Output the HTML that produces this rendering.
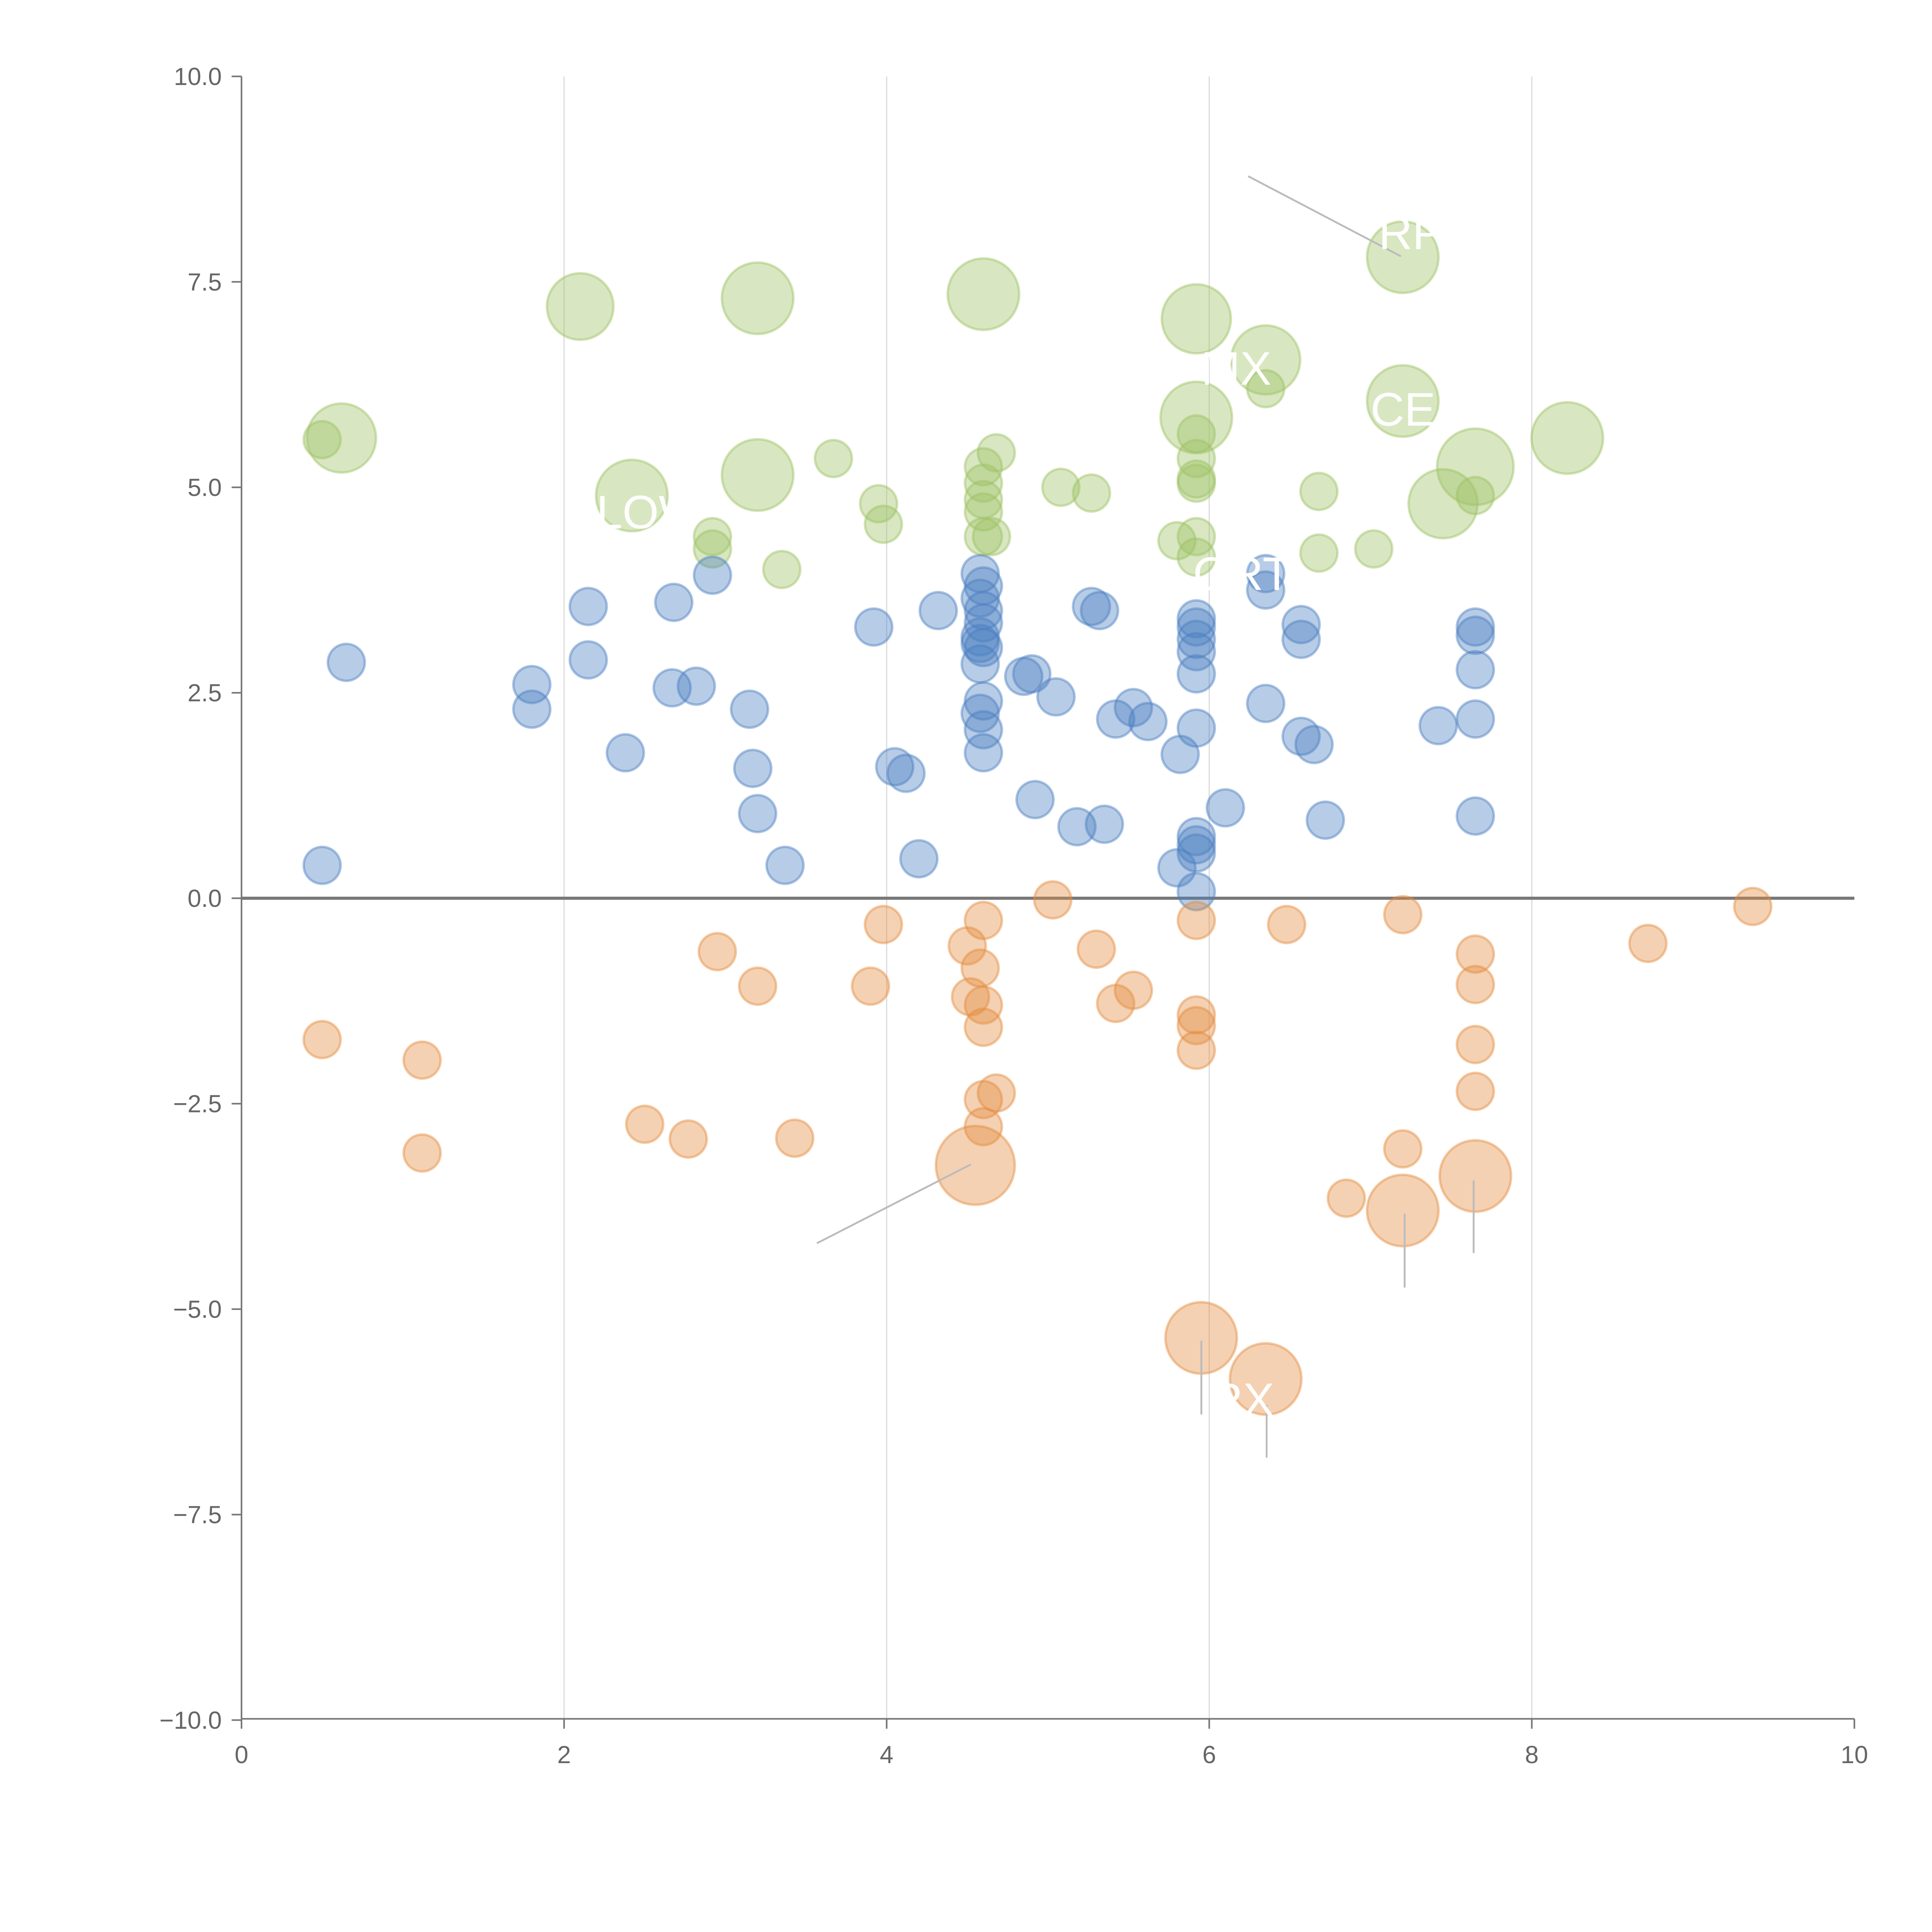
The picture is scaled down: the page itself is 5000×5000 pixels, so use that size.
<!DOCTYPE html>
<html><head><meta charset="utf-8">
<style>html,body{margin:0;padding:0;background:#fff}svg{display:block}text{font-family:"Liberation Sans",sans-serif}</style>
</head><body>
<svg id="chart" width="5000" height="5000" viewBox="0 0 1568 1568" xmlns="http://www.w3.org/2000/svg">
<g id="grid"></g>
<g id="axes"></g>
<g id="marks"></g>
<g id="notes"></g>
</svg>
<script>
const xTicks=[0,2,4,6,8,10];
const yTicks=[10,7.5,5,2.5,0,-2.5,-5,-7.5,-10];
const yTickLabels=["10.0","7.5","5.0","2.5","0.0","\u22122.5","\u22125.0","\u22127.5","\u221210.0"];
const greenX=[2.1,3.2,4.6,5.92,6.35,7.2,7.2,0.62,0.5,2.42,3.2,3.67,5.92,6.35,7.65,7.45,8.22,6.68,7.65,7.02,6.68,5.92,5.92,5.92,5.92,5.8,5.92,5.08,5.27,4.68,4.6,4.6,4.6,4.6,4.6,4.65,3.95,3.98,2.92,2.92,3.35,5.92];
const greenY=[7.2,7.3,7.35,7.05,6.55,7.8,6.05,5.6,5.58,4.9,5.15,5.35,5.85,6.2,5.25,4.8,5.6,4.95,4.9,4.25,4.2,5.05,5.35,5.65,4.4,4.35,4.15,5.0,4.93,5.42,5.25,5.05,4.85,4.7,4.4,4.4,4.8,4.55,4.4,4.25,4.0,5.1];
const greenS=[27,29,29,28,28,29,29,28,15,29,29,15,29,15,31,28,29,15,15,15,15,15,15,15,15,15,15,15,15,15,15,15,15,15,15,15,15,15,15,15,15,15];
const blueX=[0.5,0.65,1.8,1.8,2.15,2.15,2.38,2.68,2.67,2.82,2.92,3.15,3.17,3.2,3.37,3.92,4.05,4.12,4.2,4.32,4.58,4.6,4.58,4.6,4.6,4.58,4.6,4.58,4.6,4.58,4.6,4.6,4.58,4.85,4.9,4.92,5.05,5.18,5.27,5.32,5.35,5.42,5.53,5.62,5.8,5.82,5.92,5.92,5.92,5.92,5.92,5.92,5.92,5.92,5.92,5.92,6.1,6.35,6.35,6.35,6.57,6.57,6.57,6.65,6.72,7.42,7.65,7.65,7.65,7.65,7.65];
const blueY=[0.4,2.87,2.6,2.3,3.55,2.9,1.77,3.6,2.56,2.58,3.93,2.3,1.58,1.03,0.4,3.3,1.6,1.52,0.48,3.5,3.95,3.8,3.65,3.5,3.35,3.18,3.05,2.85,2.4,2.25,2.05,1.77,3.1,2.7,2.73,1.2,2.45,0.87,3.55,3.5,0.9,2.18,2.32,2.15,0.37,1.75,0.08,0.55,0.65,0.75,2.07,2.73,3.0,3.15,3.3,3.4,1.1,3.95,3.75,2.37,3.33,3.15,1.97,1.87,0.95,2.1,3.3,3.2,2.78,2.18,1.0];
const orangeX=[0.5,1.12,1.12,2.5,2.77,2.95,3.2,3.43,3.9,3.98,4.5,4.52,4.58,4.6,4.6,4.6,4.6,4.6,4.68,4.55,5.03,5.3,5.42,5.53,5.92,5.92,5.92,5.92,5.95,6.35,6.48,6.85,7.2,7.2,7.2,7.65,7.65,7.65,7.65,7.65,8.72,9.37];
const orangeY=[-1.72,-1.97,-3.1,-2.75,-2.93,-0.65,-1.07,-2.92,-1.07,-0.32,-0.58,-1.2,-0.85,-0.27,-1.3,-1.57,-2.45,-2.78,-2.37,-3.25,-0.02,-0.62,-1.28,-1.12,-0.27,-1.42,-1.55,-1.85,-5.35,-5.85,-0.32,-3.65,-0.2,-3.05,-3.8,-3.38,-0.68,-1.05,-1.78,-2.35,-0.55,-0.1];
const orangeS=[15,15,15,15,15,15,15,15,15,15,15,15,15,15,15,15,15,15,15,32,15,15,15,15,15,15,15,15,29,29,15,15,15,15,29,29,15,15,15,15,15,15];
const labels=["RP","MX","CE","LOW","ORT","RX"];
const labelX=[7.05,5.95,7.0,2.2,5.9,6.0];
const labelY=[7.9,6.25,5.75,4.5,3.75,-6.3];

const NS="http://www.w3.org/2000/svg";
const X=v=>196+(v-0)*(1505-196)/10;
const Y=v=>729-v*(729-62)/10;
function mk(tag,attrs,parent){const e=document.createElementNS(NS,tag);for(const k in attrs)e.setAttribute(k,attrs[k]);parent.appendChild(e);return e;}
const grid=document.getElementById('grid'),axes=document.getElementById('axes'),marks=document.getElementById('marks'),notes=document.getElementById('notes');
[2,4,6,8].forEach(t=>{const l=mk('line',{x1:X(t),x2:X(t),y1:Y(10),y2:Y(-10),stroke:'#ddd','stroke-width':1},grid);

});
const ya=mk('line',{x1:196,x2:196,y1:62,y2:1395,stroke:'#777','stroke-width':1.3},axes);


const xa=mk('line',{x1:196,x2:1505,y1:1395,y2:1395,stroke:'#777','stroke-width':1.3},axes);


yTicks.forEach((t,i)=>{mk('line',{x1:188,x2:196,y1:Y(t),y2:Y(t),stroke:'#777','stroke-width':1.3},axes);
const tx=mk('text',{x:180,y:Y(t)+7,'text-anchor':'end','font-size':20,fill:'#666'},axes);tx.textContent=yTickLabels[i];

});
xTicks.forEach(t=>{mk('line',{x1:X(t),x2:X(t),y1:1395,y2:1403,stroke:'#777','stroke-width':1.3},axes);
const tx=mk('text',{x:X(t),y:1431,'text-anchor':'middle','font-size':20,fill:'#666'},axes);tx.textContent=String(t);

});
function series(xs,ys,ss,col,name){xs.forEach((x,i)=>{const c=mk('circle',{cx:X(x),cy:Y(ys[i]),r:ss?ss[i]:15,fill:col,'fill-opacity':0.4,stroke:col,'stroke-opacity':0.45,'stroke-width':2},marks);

});}
series(greenX,greenY,greenS,'#9dc263','bubble-green');
series(blueX,blueY,null,'#4c7fc1','bubble-blue');
series(orangeX,orangeY,orangeS,'#e48b3e','bubble-orange');
const zl=mk('line',{x1:196,x2:1505,y1:Y(0),y2:Y(0),stroke:'#777','stroke-width':2.5},axes);


[[1013,143,1137,208],[663,1009,788,945],[1140,985,1140,1045],[1196,958,1196,1017],[975,1088,975,1148],[1028,1140,1028,1183]].forEach(p=>{const l=mk('line',{x1:p[0],y1:p[1],x2:p[2],y2:p[3],stroke:'#bbb','stroke-width':1.5},notes);

});
labels.forEach((s,i)=>{const t=mk('text',{x:X(labelX[i]),y:Y(labelY[i]),'font-size':38,fill:'#fff'},notes);t.textContent=s;

});
</script>
</body></html>
